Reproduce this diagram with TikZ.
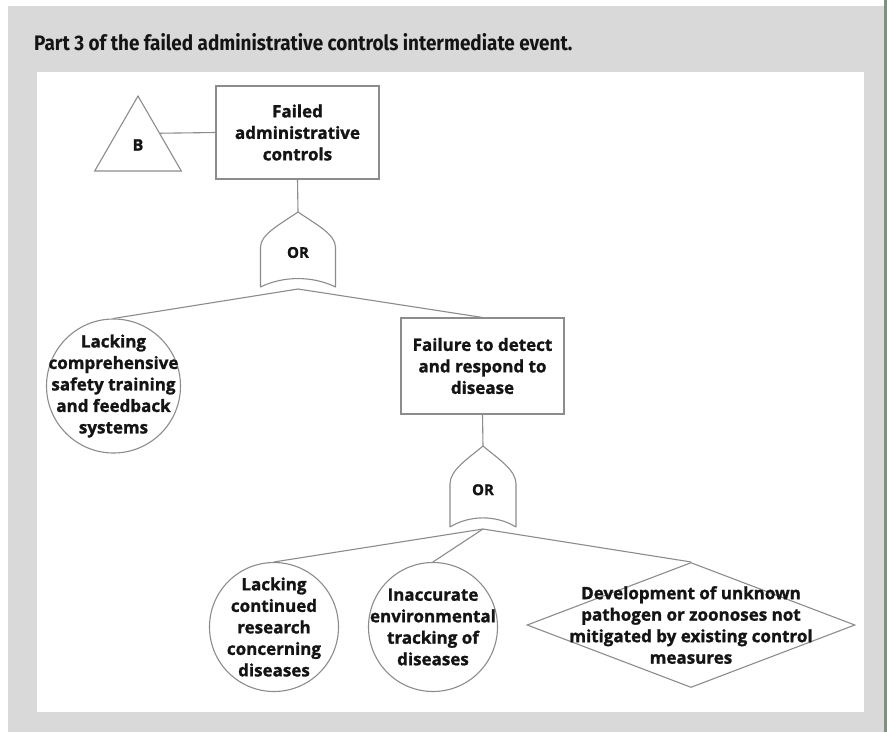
\documentclass[tikz,border=0pt]{standalone}
\usepackage{fontspec}
\setmainfont{Open Sans}[BoldFeatures={FakeBold=1.3}]
\newfontfamily\titlefont[FakeStretch=0.9]{Fira Sans}
\usetikzlibrary{shapes.geometric,positioning}

\definecolor{panelgray}{RGB}{217,217,217}
\definecolor{edgegreen}{RGB}{128,144,128}
\definecolor{linegray}{RGB}{140,140,140}
\definecolor{inkblack}{RGB}{20,20,20}

\newcommand{\evfont}{\bfseries\fontsize{17}{21.5}\selectfont}

% OR gate: name, x, y of apex, half width, height
\newcommand{\orgate}[5]{%
  \begin{scope}[shift={(#2,#3)}]
    \draw[gate] (0,0) .. controls (-0.5*#4,0.17*#5) and (-#4,0.3*#5) .. (-#4,0.47*#5)
      -- (-#4,#5) .. controls (-0.4*#4,0.85*#5) and (0.4*#4,0.85*#5) .. (#4,#5)
      -- (#4,0.47*#5) .. controls (#4,0.3*#5) and (0.5*#4,0.17*#5) .. cycle;
    \coordinate (#1-top) at (0,0);
    \node[gatetext] (#1) at (0,0.54*#5) {OR};
    \coordinate (#1-bot) at (0,#5+2);
  \end{scope}}

\begin{document}
\begin{tikzpicture}[x=1pt, y=-1pt,
    block/.style={rectangle, draw=linegray, line width=1.1pt, minimum width=163pt, align=center, inner sep=0pt, text=inkblack, font=\evfont},
    event/.style={circle, draw=linegray, line width=1.1pt, inner sep=0pt},
    undev/.style={diamond, draw=linegray, line width=1.1pt, inner sep=0pt},
    evtext/.style={align=center, inner sep=0pt, text=inkblack, font=\evfont},
    gate/.style={draw=linegray, line width=1.1pt, line join=round},
    gatetext/.style={inner sep=0pt, text=inkblack, font=\bfseries\fontsize{15}{18}\selectfont},
    line/.style={draw=linegray, line width=1.1pt}]

    % Background
    \useasboundingbox (0,0) rectangle (887,732);
    \fill[white] (0,0) rectangle (887,732);
    \fill[panelgray] (8,6) rectangle (884,732);
    \fill[edgegreen] (884,0) rectangle (887,732);
    \fill[white] (37,72) rectangle (864,712);
    \node[anchor=base west, inner sep=0pt, text=inkblack, font=\titlefont\bfseries\fontsize{21}{24}\selectfont] (title) at (34,50) {Part 3 of the failed administrative controls intermediate event.};

    % Nodes
    \node[regular polygon, regular polygon sides=3, draw=linegray, line width=1.1pt, minimum size=100pt, inner sep=0pt] (tri) at (138,146) {};
    \node[gatetext, font=\bfseries\fontsize{16}{18}\selectfont] (tri-txt) at (138,145) {B};
    \node[block, minimum height=93pt] (failed) at (297.5,132.5) {Failed\\administrative\\controls};
    \node[event, minimum size=134pt, label={[evtext, name=lack1-txt]center:Lacking\\comprehensive\\safety training\\and feedback\\systems}] (lack1) at (113.5,386) {};
    \node[block, minimum height=96pt] (detect) at (482.5,366) {Failure to detect\\and respond to\\disease};
    \node[event, minimum size=129pt, label={[evtext, name=lack2-txt]center:Lacking\\continued\\research\\concerning\\diseases}] (lack2) at (274,627) {};
    \node[event, minimum size=129pt, label={[evtext, name=track-txt]center:Inaccurate\\environmental\\tracking of\\diseases}] (track) at (433,627) {};
    \node[undev, minimum width=328pt, minimum height=125pt, label={[evtext, name=unknown-txt]center:Development of unknown\\pathogen or zoonoses not\\mitigated by existing control\\measures}] (unknown) at (691,625) {};

    % Gates
    \orgate{gateA}{298}{212}{37.5}{75}
    \orgate{gateB}{483}{446}{33}{81}

    % Lines
    \path[line] (tri.side 3) -- (failed.west);
    \path[line] (failed.south) -- (gateA-top);
    \path[line] (gateA-bot) -- (lack1.north);
    \path[line] (gateA-bot) -- (detect.north);
    \path[line] (detect.south) -- (gateB-top);
    \path[line] (gateB-bot) -- (lack2.north);
    \path[line] (gateB-bot) -- (track.north);
    \path[line] (gateB-bot) -- (unknown.north);
\end{tikzpicture}
\end{document}
